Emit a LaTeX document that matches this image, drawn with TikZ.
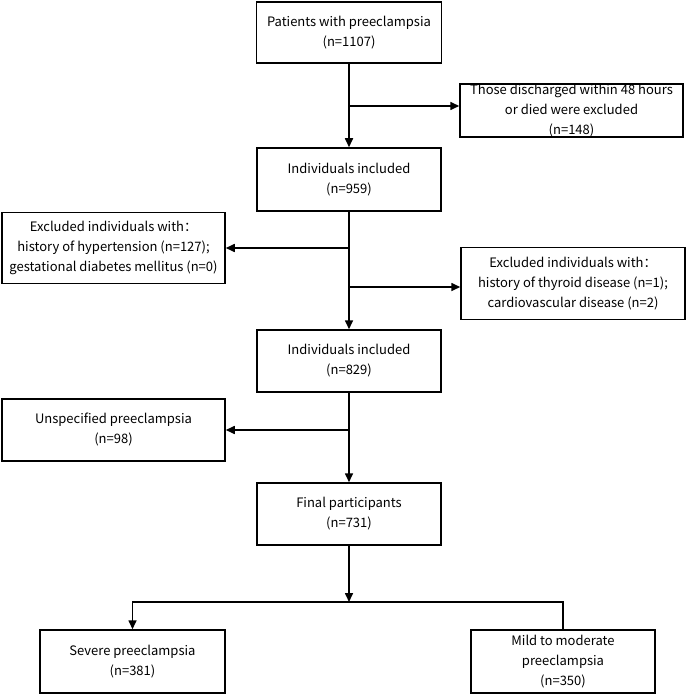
\documentclass[tikz,border=0pt]{standalone}
\usepackage{fontspec}
\setmainfont{Noto Sans CJK SC}
\usetikzlibrary{arrows.meta,positioning}
\tikzset{
  box/.style={draw, line width=1.5pt, align=center, inner sep=0pt,
    font=\fontsize{13}{20}\selectfont},
  arr/.style={line width=1.6pt, -{Triangle[length=9pt,width=8pt]}},
}
\begin{document}
\begin{tikzpicture}[x=1pt,y=1pt]
\useasboundingbox (0,0) rectangle (685,-695);
% main column
\node[box, minimum width=185, minimum height=61] (pat) at (349,-32.5) {Patients with preeclampsia\\(n=1107)};
\node[box, minimum width=184, minimum height=63] (inc1) at (349,-179.5) {Individuals included\\(n=959)};
\node[box, minimum width=184, minimum height=62] (inc2) at (349,-361) {Individuals included\\(n=829)};
\node[box, minimum width=184, minimum height=62] (final) at (349,-514) {Final participants\\(n=731)};
% exclusions
\node[box, minimum width=223, minimum height=53] (disch) at (571.5,-110.5) {Those discharged within 48 hours\\or died were excluded\\(n=148)};
\node[box, minimum width=223, minimum height=71] (exhyp) at (113.5,-248) {Excluded individuals with：\\history of hypertension (n=127);\\gestational diabetes mellitus (n=0)};
\node[box, minimum width=224, minimum height=72] (exthy) at (573,-283.5) {Excluded individuals with：\\history of thyroid disease (n=1);\\cardiovascular disease (n=2)};
\node[box, minimum width=223, minimum height=62] (unsp) at (113.5,-430) {Unspecified preeclampsia\\(n=98)};
% groups
\node[box, minimum width=185, minimum height=63] (sev) at (132.5,-661.5) {Severe preeclampsia\\(n=381)};
\node[box, minimum width=184, minimum height=63] (mild) at (563,-661.5) {Mild to moderate\\preeclampsia\\(n=350)};
\coordinate (split) at (349,-602);
\coordinate (dischin) at ([yshift=4.5pt]disch.west);
\coordinate (exthyin) at ([yshift=-3.5pt]exthy.west);

\draw[arr] (pat) -- (inc1);
\draw[arr] (pat.south |- dischin) -- (dischin);
\draw[arr] (inc1) -- (inc2);
\draw[arr] (inc1.south |- exhyp.east) -- (exhyp.east);
\draw[arr] (inc1.south |- exthyin) -- (exthyin);
\draw[arr] (inc2) -- (final);
\draw[arr] (inc2.south |- unsp.east) -- (unsp.east);
\draw[arr] (final) -- (split);
\draw[arr] (split) -| (sev);
\draw[line width=1.6pt] (split) -| (mild);
\end{tikzpicture}
\end{document}
